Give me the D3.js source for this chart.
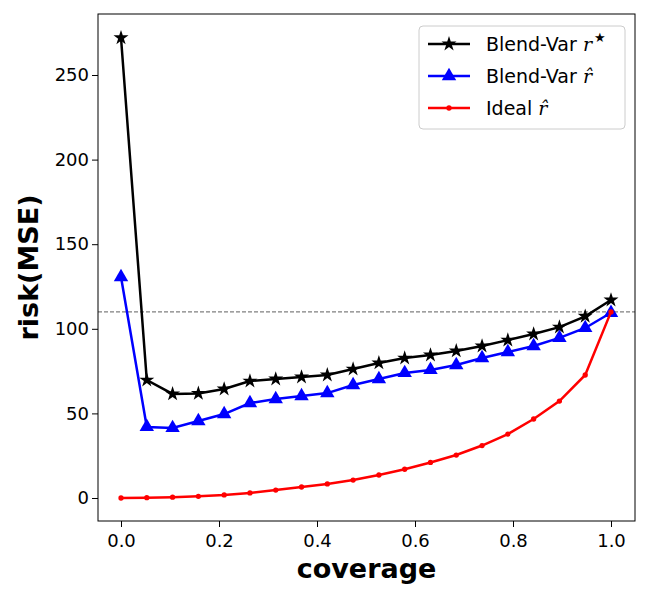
<!DOCTYPE html>
<html><head><meta charset="utf-8">
<script src="https://cdn.jsdelivr.net/npm/d3@7"></script>
<style>body{margin:0;background:#fff}text{font-family:"DejaVu Sans",sans-serif}</style>
</head><body><svg id="c" width="650" height="600"></svg>
<script>
var coverage = d3.range(20).map(function (i) { return i / 19; });
var blendStar = [272, 69.7, 61.5, 61.8, 64.4, 69.1, 70.3, 71.5, 72.7, 76.2, 79.8, 82.7, 84.5, 86.9, 89.8, 93.3, 96.9, 101, 107.4, 117];
var blendHat = [130.6, 42, 41.4, 45.5, 49.6, 56.1, 58.5, 60.3, 62, 66.8, 70.3, 73.9, 75.7, 78.6, 82.7, 86.3, 89.8, 94.6, 100.5, 109.5];
var idealHat = [0, 0.2, 0.5, 1, 1.8, 3, 4.7, 6.5, 8.3, 10.6, 13.6, 17, 21, 25.4, 31, 37.8, 46.7, 57.3, 72.7, 110];
var baseline = 110;
var xTicks = [0, 0.2, 0.4, 0.6, 0.8, 1.0];
var yTicks = [0, 50, 100, 150, 200, 250];

var svg = d3.select('#c');
var L = 98, R = 635, T = 14, B = 521;
var x = d3.scaleLinear().domain([0, 1]).range([121, 611]);
var y = d3.scaleLinear().domain([0, 250]).range([498, 75]);

svg.append('line').attr('x1', L).attr('x2', R).attr('y1', y(baseline)).attr('y2', y(baseline))
    .style('stroke', 'gray').style('stroke-dasharray', '4,2').style('stroke-width', 1.2);

var series = [
    {name: 'Blend-Var ', mark: true, data: blendStar, color: 'black', sym: d3.symbolStar, size: 70},
    {name: 'Blend-Var ', hat: true, data: blendHat, color: 'blue', sym: d3.symbolTriangle, size: 90},
    {name: 'Ideal ', hat: true, data: idealHat, color: 'red', sym: d3.symbolCircle, size: 22}
];
var line = d3.line().x(function (d, i) { return x(coverage[i]); }).y(function (d) { return y(d); });

series.forEach(function (s) {
    svg.append('path').attr('d', line(s.data)).style('fill', 'none').style('stroke', s.color).style('stroke-width', 2.5);
    svg.selectAll(null).data(s.data).enter().append('path')
        .attr('d', d3.symbol().type(s.sym).size(s.size))
        .attr('transform', function (d, i) { return 'translate(' + [x(coverage[i]), y(d)] + ')'; })
        .style('fill', s.color);
});

svg.append('rect').attr('x', L).attr('y', T).attr('width', R - L).attr('height', B - T)
    .style('fill', 'none').style('stroke', 'black').style('stroke-width', 1);

var xa = svg.append('g').attr('transform', 'translate(0,' + B + ')')
    .call(d3.axisBottom(x).tickValues(xTicks).tickFormat(d3.format('.1f')).tickSizeOuter(0));
var ya = svg.append('g').attr('transform', 'translate(' + L + ',0)')
    .call(d3.axisLeft(y).tickValues(yTicks).tickSizeOuter(0));
[xa, ya].forEach(function (a) {
    a.select('.domain').remove();
    a.selectAll('text').style('font-size', '18px').style('fill', 'black');
    a.selectAll('line').style('stroke', 'black');
});
xa.selectAll('text').attr('dy', '0.95em');

svg.append('text').attr('x', (L + R) / 2).attr('y', 578).attr('text-anchor', 'middle')
    .style('font-size', '27px').style('font-weight', 'bold').text('coverage');
svg.append('text').attr('transform', 'translate(38,' + (T + B) / 2 + ') rotate(-90)').attr('text-anchor', 'middle')
    .style('font-size', '27px').style('font-weight', 'bold').text('risk(MSE)');

// legend
var lg = svg.append('g');
lg.append('rect').attr('x', 419).attr('y', 26).attr('width', 206).attr('height', 103).attr('rx', 4)
    .style('fill', 'white').style('stroke', '#ccc');
series.forEach(function (s, i) {
    var yy = 44 + i * 32;
    lg.append('line').attr('x1', 428).attr('x2', 470).attr('y1', yy).attr('y2', yy)
        .style('stroke', s.color).style('stroke-width', 2.5);
    lg.append('path').attr('d', d3.symbol().type(s.sym).size(s.size)).attr('transform', 'translate(449,' + yy + ')')
        .style('fill', s.color);
    var t = lg.append('text').attr('x', 486).attr('y', yy + 7).style('font-size', '19px');
    t.append('tspan').text(s.name);
    t.append('tspan').style('font-style', 'italic').style('font-family', 'DejaVu Serif').text(s.hat ? 'r\u0302' : 'r');
    if (s.mark) t.append('tspan').attr('dx', 2).attr('dy', -9).style('font-size', '13px').text('\u2605');
});
</script></body></html>
